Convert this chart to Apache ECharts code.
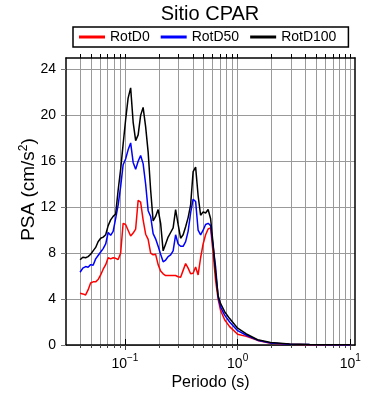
<!DOCTYPE html>
<html>
<head>
<meta charset="utf-8">
<script src="https://cdn.jsdelivr.net/npm/echarts@6/dist/echarts.min.js"></script>
<style>html,body{margin:0;padding:0;background:#fff}#c{width:390px;height:400px}</style>
</head>
<body>
<div id="c"></div>
<script>
const periods = [0.0400,0.0423,0.0448,0.0471,0.0496,0.0522,0.0550,0.0578,0.0609,0.0641,
0.0675,0.0710,0.0747,0.0786,0.0827,0.0871,0.0916,0.0964,0.1014,0.1067,
0.1124,0.1183,0.1245,0.1310,0.1378,0.1450,0.1527,0.1607,0.1691,0.1779,
0.1872,0.1971,0.2074,0.2183,0.2297,0.2417,0.2544,0.2677,0.2817,0.2965,
0.3120,0.3284,0.3456,0.3637,0.3827,0.4028,0.4239,0.4461,0.4694,0.4940,
0.5199,0.5471,0.5758,0.6059,0.6376,0.6710,0.7062,
0.767,0.849,1.0,1.195,1.504,1.963,2.89,4.35,6.55,10.0];

const rotD0 = [4.5,4.45,4.36,4.8,5.4,5.5,5.5,5.7,6.1,6.6,
7.0,7.6,7.5,7.6,7.55,7.45,8.0,10.6,10.5,10.0,
9.5,9.75,10.1,12.6,12.45,10.9,9.65,9.2,8.0,7.85,
7.9,7.0,6.45,6.2,6.05,6.05,6.05,6.05,6.05,5.95,
5.9,6.5,7.1,6.7,6.2,6.25,6.8,6.1,7.6,8.8,
9.6,10.1,10.2,8.0,5.6,4.0,3.0,
2.2,1.6,0.93,0.75,0.4,0.15,0.06,0.03,0.02,0.01];

const rotD50 = [6.34,6.7,6.83,6.78,7.0,6.95,7.5,7.8,8.1,8.4,
8.8,9.8,9.55,9.9,11.0,12.2,13.8,15.7,16.2,17.0,
17.6,15.9,15.3,16.0,16.5,15.8,14.0,11.7,11.2,9.7,
9.25,8.6,7.9,7.25,7.4,7.7,7.85,8.2,9.6,8.8,
8.6,8.6,9.0,9.9,11.5,12.7,12.5,10.0,9.6,10.0,
10.5,10.6,10.4,8.6,6.8,4.2,3.3,
2.6,2.0,1.25,0.85,0.42,0.18,0.07,0.035,0.02,0.01];

const rotD100 = [7.42,7.65,7.6,7.7,7.9,8.2,8.5,9.0,9.3,9.4,
9.6,10.4,10.9,11.2,11.4,13.5,15.3,17.5,19.6,21.5,
22.4,19.4,17.8,18.3,20.0,20.7,19.0,16.8,13.5,10.8,
11.2,11.8,10.6,8.2,8.8,9.4,9.8,10.2,11.8,10.5,
9.3,9.6,10.3,11.1,12.2,15.1,15.5,13.0,11.3,11.6,
11.5,11.8,11.0,8.8,6.3,4.3,3.6,
2.9,2.3,1.46,0.96,0.46,0.22,0.09,0.045,0.025,0.015];

const seriesNames = ['RotD0','RotD50','RotD100'];
const seriesColors = ['#ff0000','#0000ff','#000000'];
const yTicks = [0,4,8,12,16,20,24];
const xMajor = [0.1,1,10];
const xAll = [0.04,0.05,0.06,0.07,0.08,0.09,0.1,0.2,0.3,0.4,0.5,0.6,0.7,0.8,0.9,1,2,3,4,5,6,7,8,9,10];

const FONT = 'Liberation Sans, Arial, Helvetica, sans-serif';
const XMIN = 0.03, XMAX = 11;

function pair(arr){ return periods.map((p,i)=>[p, arr[i]]); }
const allData = [rotD0, rotD50, rotD100];

const chart = echarts.init(document.getElementById('c'), null, {renderer:'canvas'});

function xAxisBase(extra){
  return Object.assign({
    type:'log', logBase:10, min:XMIN, max:XMAX, gridIndex:0,
    axisLine:{show:false}, axisTick:{show:false}, axisLabel:{show:false}, splitLine:{show:false}
  }, extra);
}

const option = {
  animation:false,
  textStyle:{fontFamily:FONT},
  title:{
    text:'Sitio CPAR', left:210, top:4, textAlign:'center', padding:0,
    textStyle:{fontFamily:FONT, fontSize:20, fontWeight:'normal', color:'#000'}
  },
  legend:{
    left:73, top:27, padding:[3,12,3,6],
    borderColor:'#000', borderWidth:1.5,
    itemGap:11, itemWidth:26, itemHeight:3, icon:'rect',
    textStyle:{fontFamily:FONT, fontSize:14, color:'#000'},
    data:seriesNames
  },
  grid:{left:66, right:35, top:58, bottom:55, outerBoundsMode:'none'},
  xAxis:[
    xAxisBase({
      position:'bottom',
      name:'Periodo (s)', nameLocation:'middle', nameGap:30, nameMoveOverlap:false,
      nameTextStyle:{fontFamily:FONT, fontSize:16, color:'#000'},
      axisLine:{show:true, onZero:false, lineStyle:{color:'#000', width:1.5}},
      axisTick:{show:true, inside:false, length:3, customValues:xAll, lineStyle:{color:'#444', width:1}},
      splitLine:{show:true, lineStyle:{color:'#9a9a9a', width:1}},
      axisLabel:{
        show:true, margin:8, customValues:xMajor,
        formatter:function(v){
          const e = Math.round(Math.log10(v));
          return '{b|10}{s|' + (e < 0 ? '\u2212' + (-e) : String(e)) + '}';
        },
        rich:{
          b:{fontFamily:FONT, fontSize:14, color:'#000', verticalAlign:'bottom', lineHeight:18},
          s:{fontFamily:FONT, fontSize:10, color:'#000', verticalAlign:'top', lineHeight:10}
        }
      }
    }),
    xAxisBase({
      position:'bottom',
      axisTick:{show:true, inside:false, length:5, customValues:xMajor, lineStyle:{color:'#444', width:1}}
    }),
    xAxisBase({
      position:'top',
      axisLine:{show:true, onZero:false, lineStyle:{color:'#000', width:1.5}},
      axisTick:{show:true, inside:false, length:4, customValues:xAll, lineStyle:{color:'#000', width:1}}
    }),
    xAxisBase({
      position:'top',
      axisTick:{show:true, inside:false, length:6, customValues:xMajor, lineStyle:{color:'#000', width:1}}
    })
  ],
  yAxis:[
    {
      type:'value', min:0, max:25, interval:4, position:'left',
      name:'PSA (cm/s{s|2})', nameLocation:'middle', nameGap:26, nameRotate:90, nameMoveOverlap:false,
      nameTextStyle:{fontFamily:FONT, fontSize:19, color:'#000', lineHeight:22, padding:[0,0,0,24],
        rich:{s:{fontFamily:FONT, fontSize:12, color:'#000', verticalAlign:'top', lineHeight:13}}},
      axisLine:{show:true, onZero:false, lineStyle:{color:'#000', width:1.5}},
      axisTick:{show:true, inside:false, length:5, customValues:yTicks, lineStyle:{color:'#777', width:1}},
      axisLabel:{show:true, margin:10, customValues:yTicks, fontFamily:FONT, fontSize:14, color:'#000'},
      splitLine:{show:true, lineStyle:{color:'#9a9a9a', width:1}}
    },
    {
      type:'value', min:0, max:25, interval:4, position:'right',
      axisLine:{show:true, onZero:false, lineStyle:{color:'#000', width:1.5}},
      axisTick:{show:false}, axisLabel:{show:false}, splitLine:{show:false}
    }
  ],
  series: seriesNames.map((n,i)=>({
    name:n, type:'line', xAxisIndex:0, yAxisIndex:0,
    data:pair(allData[i]), symbol:'none', showSymbol:false,
    color:seriesColors[i],
    lineStyle:{color:seriesColors[i], width:1.5},
    itemStyle:{color:seriesColors[i]},
    z:2+i
  }))
};
chart.setOption(option);
</script>
</body>
</html>
